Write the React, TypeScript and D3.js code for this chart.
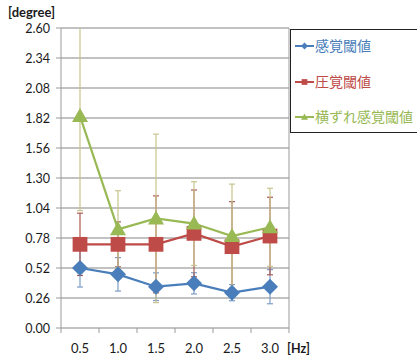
import React from "react";
import * as d3 from "d3";

const categories = ["0.5", "1.0", "1.5", "2.0", "2.5", "3.0"];
const yTicks = [0, 0.26, 0.52, 0.78, 1.04, 1.3, 1.56, 1.82, 2.08, 2.34, 2.6];

const seriesNames = ["感覚閾値", "圧覚閾値", "横ずれ感覚閾値"];
const sensoryMean = [0.52, 0.465, 0.358, 0.387, 0.306, 0.358];
const sensorySd = [0.165, 0.145, 0.12, 0.092, 0.07, 0.148];
const pressureMean = [0.725, 0.725, 0.725, 0.82, 0.705, 0.797];
const pressureSd = [0.27, 0.195, 0.42, 0.376, 0.39, 0.336];
const shearMean = [1.837, 0.855, 0.95, 0.905, 0.797, 0.873];
const shearSd = [0.82, 0.335, 0.73, 0.363, 0.45, 0.338];

const colors = ["#4A7EBB", "#BE4B48", "#98B954"];
const errColors = ["#7d9cc4", "#a85a50", "#c9c48e"];
const markers = ["diamond", "square", "triangle"];

const W = 417;
const H = 358;
const plot = { left: 61, right: 289, top: 28, bottom: 328 };

function Marker({ kind, x, y, color, size }: { kind: string; x: number; y: number; color: string; size: number }) {
  const s = size / 2;
  if (kind === "diamond") {
    return <path d={`M${x},${y - s}L${x + s},${y}L${x},${y + s}L${x - s},${y}Z`} fill={color} />;
  }
  if (kind === "square") {
    const q = s * 0.82;
    return <rect x={x - q} y={y - q} width={q * 2} height={q * 2} fill={color} />;
  }
  return <path d={`M${x},${y - s}L${x + s},${y + s * 0.75}L${x - s},${y + s * 0.75}Z`} fill={color} />;
}

export default function App() {
  const x = d3.scaleBand<string>().domain(categories).range([plot.left, plot.right]);
  const y = d3.scaleLinear().domain([0, 2.6]).range([plot.bottom, plot.top]);
  const cx = (c: string) => (x(c) as number) + x.bandwidth() / 2;
  const series = [
    { mean: sensoryMean, sd: sensorySd },
    { mean: pressureMean, sd: pressureSd },
    { mean: shearMean, sd: shearSd },
  ];
  const line = d3
    .line<number>()
    .x((_, i) => cx(categories[i]))
    .y((d) => y(d));
  const clampV = (v: number) => Math.max(0, Math.min(2.6, v));
  const font = "Lato, 'Open Sans', sans-serif";
  const cjk = "'Noto Sans CJK JP', sans-serif";

  return (
    <svg width={W} height={H} style={{ position: "absolute", left: 0, top: 0, background: "#fff" }}>
      {/* gridlines */}
      {yTicks.map((t) => (
        <line key={t} x1={plot.left} x2={plot.right} y1={y(t)} y2={y(t)} stroke="#858585" strokeWidth={1} />
      ))}
      {/* axes */}
      <line x1={plot.left} x2={plot.left} y1={plot.top} y2={plot.bottom} stroke="#9a9a9a" />
      <line x1={plot.right} x2={plot.right} y1={plot.top} y2={plot.bottom} stroke="#9a9a9a" />
      {yTicks.map((t) => (
        <g key={"yt" + t}>
          <line x1={plot.left - 5} x2={plot.left} y1={y(t)} y2={y(t)} stroke="#9a9a9a" />
          <text x={50} y={y(t) + 4.5} textAnchor="end" fontSize={12.5} fontFamily={font} fill="#1a1a1a">
            {t.toFixed(2)}
          </text>
        </g>
      ))}
      {categories.map((c, i) => (
        <g key={"xt" + c}>
          <line x1={(x(c) as number) + x.bandwidth()} x2={(x(c) as number) + x.bandwidth()} y1={plot.bottom} y2={plot.bottom + 5} stroke="#9a9a9a" />
          {i === 0 && <line x1={plot.left} x2={plot.left} y1={plot.bottom} y2={plot.bottom + 5} stroke="#9a9a9a" />}
          <text x={cx(c)} y={353} textAnchor="middle" fontSize={13} fontFamily={font} fill="#1a1a1a">
            {c}
          </text>
        </g>
      ))}
      <text x={8} y={17} fontSize={13} fontWeight="bold" fontFamily={font} fill="#1a1a1a">
        [degree]
      </text>
      <text x={287} y={353} fontSize={12.5} fontWeight="bold" fontFamily={font} fill="#1a1a1a">
        [Hz]
      </text>

      {/* error bars */}
      {series.map((s, si) =>
        s.mean.map((m, i) => {
          const px = cx(categories[i]);
          const hi = m + s.sd[i];
          const lo = m - s.sd[i];
          const yh = y(clampV(hi));
          const yl = y(clampV(lo));
          return (
            <g key={`e${si}-${i}`} stroke={errColors[si]} strokeWidth={1.2}>
              <line x1={px} x2={px} y1={yh} y2={yl} />
              {hi <= 2.6 && <line x1={px - 3} x2={px + 3} y1={yh} y2={yh} />}
              <line x1={px - 3} x2={px + 3} y1={yl} y2={yl} />
            </g>
          );
        })
      )}

      {/* lines and markers */}
      {series.map((s, si) => (
        <g key={"s" + si}>
          <path d={line(s.mean) as string} fill="none" stroke={colors[si]} strokeWidth={2.2} />
          {s.mean.map((m, i) => (
            <Marker key={i} kind={markers[si]} x={cx(categories[i])} y={y(m)} color={colors[si]} size={si === 1 ? 18 : 16} />
          ))}
        </g>
      ))}

      {/* legend */}
      <rect x={290.5} y={29.5} width={130} height={103} fill="#fff" stroke="#222" strokeWidth={1} />
      {seriesNames.map((n, i) => {
        const ly = [46, 82, 117][i];
        return (
          <g key={"lg" + i}>
            <line x1={295} x2={314} y1={ly} y2={ly} stroke={colors[i]} strokeWidth={2} />
            <Marker kind={markers[i]} x={304.5} y={ly} color={colors[i]} size={7} />
            <text x={315} y={ly + 5} fontSize={14} fontFamily={cjk} fill={colors[i]}>
              {n}
            </text>
          </g>
        );
      })}
    </svg>
  );
}
